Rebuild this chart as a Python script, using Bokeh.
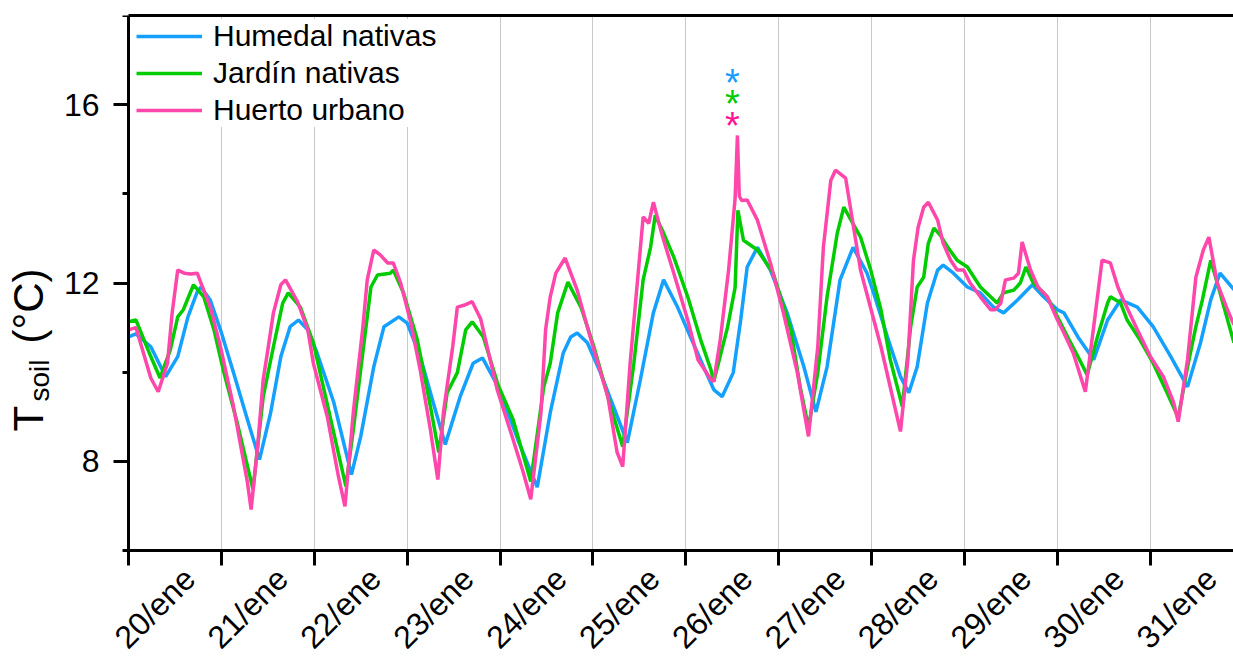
import math
from bokeh.plotting import figure
from bokeh.models import Range1d, FixedTicker, LinearAxis
from bokeh.core.properties import value
from bokeh.embed import file_html
from bokeh.resources import INLINE

FONT = "Liberation Sans"

# ---- data -------------------------------------------------------------
tick_days = [20, 21, 22, 23, 24, 25, 26, 27, 28, 29, 30, 31]
tick_labels = ["20/ene", "21/ene", "22/ene", "23/ene", "24/ene", "25/ene",
               "26/ene", "27/ene", "28/ene", "29/ene", "30/ene", "31/ene"]
y_major = [8, 12, 16]
y_minor = [6, 10, 14, 18]

series_names = ["Humedal nativas", "Jardín nativas", "Huerto urbano"]

# (day of January, soil temperature °C)
humedal = [
    (20.00, 10.79), (20.08, 10.86), (20.24, 10.57), (20.40, 9.90), (20.53, 10.35),
    (20.64, 11.24), (20.74, 11.80), (20.78, 11.91), (20.88, 11.62), (20.99, 10.95),
    (21.13, 9.99), (21.28, 8.94), (21.41, 8.04), (21.53, 9.09), (21.64, 10.35),
    (21.74, 11.02), (21.83, 11.17), (21.93, 10.95), (22.03, 10.43), (22.21, 9.32),
    (22.40, 7.70), (22.50, 8.56), (22.64, 10.12), (22.75, 11.02), (22.91, 11.24),
    (23.00, 11.10), (23.14, 10.35), (23.28, 9.32), (23.41, 8.38), (23.57, 9.45),
    (23.71, 10.20), (23.81, 10.32), (23.98, 9.67), (24.19, 8.49), (24.40, 7.42),
    (24.54, 9.09), (24.68, 10.43), (24.76, 10.79), (24.83, 10.88), (24.94, 10.66),
    (25.08, 9.99), (25.22, 9.23), (25.37, 8.42), (25.51, 9.83), (25.65, 11.33),
    (25.76, 12.07), (25.91, 11.46), (26.05, 10.79), (26.19, 10.12), (26.30, 9.61),
    (26.39, 9.45), (26.51, 9.99), (26.59, 11.17), (26.66, 12.36), (26.77, 12.80),
    (26.91, 12.29), (27.09, 11.33), (27.27, 10.12), (27.40, 9.11), (27.52, 10.12),
    (27.66, 12.07), (27.80, 12.80), (27.95, 12.22), (28.02, 11.78), (28.17, 10.79),
    (28.31, 9.90), (28.40, 9.54), (28.49, 10.12), (28.60, 11.55), (28.71, 12.29),
    (28.77, 12.40), (28.88, 12.22), (29.03, 11.91), (29.17, 11.78), (29.31, 11.46),
    (29.42, 11.33), (29.57, 11.62), (29.73, 11.96), (29.85, 11.69), (30.00, 11.40),
    (30.07, 11.33), (30.22, 10.79), (30.39, 10.28), (30.54, 11.17), (30.68, 11.62),
    (30.86, 11.46), (31.03, 11.02), (31.22, 10.35), (31.40, 9.67), (31.54, 10.66),
    (31.65, 11.62), (31.75, 12.22), (31.90, 11.85),
]

jardin = [
    (20.00, 11.13), (20.08, 11.17), (20.24, 10.35), (20.34, 9.87), (20.45, 10.50),
    (20.53, 11.24), (20.59, 11.40), (20.69, 11.91), (20.70, 11.96), (20.81, 11.69),
    (20.92, 10.95), (21.02, 10.05), (21.17, 8.87), (21.34, 7.37), (21.45, 9.45),
    (21.56, 10.57), (21.66, 11.55), (21.72, 11.78), (21.85, 11.46), (21.99, 10.66),
    (22.17, 9.00), (22.34, 7.44), (22.42, 8.71), (22.53, 10.57), (22.61, 11.91),
    (22.68, 12.18), (22.82, 12.22), (22.85, 12.29), (22.96, 11.78), (23.11, 10.72),
    (23.25, 9.23), (23.34, 8.20), (23.43, 9.54), (23.54, 9.99), (23.63, 10.95),
    (23.70, 11.13), (23.82, 10.79), (23.98, 9.70), (24.14, 8.94), (24.33, 7.55),
    (24.47, 9.67), (24.54, 10.20), (24.62, 11.33), (24.73, 12.02), (24.87, 11.46),
    (25.01, 10.57), (25.19, 9.23), (25.32, 8.33), (25.44, 10.20), (25.54, 12.07),
    (25.62, 12.80), (25.67, 13.52), (25.76, 13.12), (25.87, 12.58), (26.02, 11.69),
    (26.16, 10.72), (26.27, 10.05), (26.30, 9.79), (26.45, 11.02), (26.53, 11.90),
    (26.56, 13.63), (26.62, 12.96), (26.77, 12.74), (26.94, 12.22), (27.13, 10.95),
    (27.23, 9.67), (27.32, 8.76), (27.42, 9.99), (27.52, 11.69), (27.63, 13.12),
    (27.70, 13.70), (27.88, 13.03), (27.99, 12.29), (28.10, 11.40), (28.20, 10.28),
    (28.33, 9.23), (28.42, 11.02), (28.49, 11.91), (28.56, 12.13), (28.61, 12.89),
    (28.67, 13.23), (28.74, 13.07), (28.82, 12.80), (28.92, 12.51), (29.03, 12.36),
    (29.17, 11.91), (29.35, 11.55), (29.42, 11.78), (29.53, 11.84), (29.60, 12.00),
    (29.66, 12.36), (29.74, 12.00), (29.89, 11.69), (30.00, 11.24), (30.11, 10.79),
    (30.22, 10.35), (30.32, 9.94), (30.43, 10.79), (30.54, 11.55), (30.57, 11.69),
    (30.68, 11.55), (30.75, 11.17), (30.89, 10.72), (31.03, 10.20), (31.18, 9.54),
    (31.30, 8.98), (31.40, 10.12), (31.49, 11.02), (31.56, 11.62), (31.65, 12.51),
    (31.75, 11.78), (31.90, 10.66),
]

huerto = [
    (20.00, 10.95), (20.08, 11.00), (20.24, 9.87), (20.32, 9.56), (20.42, 10.20),
    (20.47, 11.33), (20.53, 12.29), (20.60, 12.22), (20.67, 12.20), (20.74, 12.22),
    (20.78, 12.00), (20.88, 11.46), (20.99, 10.57), (21.13, 9.23), (21.28, 7.53),
    (21.32, 6.92), (21.39, 8.33), (21.45, 9.83), (21.50, 10.50), (21.56, 11.33),
    (21.64, 11.96), (21.69, 12.07), (21.82, 11.58), (21.93, 10.95), (21.99, 10.20),
    (22.14, 9.00), (22.26, 7.66), (22.33, 6.99), (22.42, 9.10), (22.52, 10.95),
    (22.57, 12.07), (22.64, 12.74), (22.71, 12.63), (22.79, 12.45), (22.85, 12.45),
    (22.93, 12.00), (23.04, 11.10), (23.14, 10.05), (23.25, 8.71), (23.33, 7.59),
    (23.39, 9.10), (23.49, 10.57), (23.54, 11.46), (23.61, 11.50), (23.70, 11.58),
    (23.79, 11.20), (23.97, 9.60), (24.14, 8.49), (24.25, 7.75), (24.33, 7.15),
    (24.44, 9.09), (24.49, 10.95), (24.54, 11.69), (24.60, 12.22), (24.70, 12.56),
    (24.83, 11.84), (24.97, 10.79), (25.16, 9.45), (25.26, 8.20), (25.32, 7.88),
    (25.40, 10.20), (25.48, 12.07), (25.54, 13.48), (25.60, 13.34), (25.65, 13.81),
    (25.75, 13.03), (25.87, 12.22), (26.02, 11.17), (26.13, 10.28), (26.18, 10.12),
    (26.27, 9.83), (26.30, 9.79), (26.37, 10.72), (26.46, 12.29), (26.53, 13.90),
    (26.555, 15.31), (26.575, 13.95), (26.60, 13.85), (26.66, 13.86), (26.77, 13.41),
    (26.91, 12.45), (27.05, 11.33), (27.20, 9.99), (27.32, 8.56), (27.42, 10.57),
    (27.48, 12.80), (27.56, 14.30), (27.61, 14.53), (27.72, 14.35), (27.88, 12.29),
    (28.10, 10.57), (28.31, 8.67), (28.39, 10.28), (28.45, 12.51), (28.50, 13.25),
    (28.56, 13.70), (28.61, 13.81), (28.71, 13.41), (28.77, 12.89), (28.85, 12.51),
    (28.92, 12.29), (28.99, 12.29), (29.06, 12.00), (29.17, 11.69), (29.28, 11.40),
    (29.33, 11.40), (29.39, 11.55), (29.44, 12.07), (29.53, 12.11), (29.58, 12.22),
    (29.62, 12.92), (29.71, 12.29), (29.79, 11.91), (29.89, 11.69), (30.00, 11.17),
    (30.07, 10.88), (30.17, 10.43), (30.30, 9.56), (30.39, 11.02), (30.48, 12.51),
    (30.57, 12.45), (30.65, 11.91), (30.71, 11.62), (30.86, 10.95), (31.00, 10.35),
    (31.14, 9.90), (31.25, 9.32), (31.30, 8.89), (31.40, 10.28), (31.49, 12.13),
    (31.57, 12.74), (31.63, 13.03), (31.72, 12.00), (31.83, 11.40), (31.90, 11.06),
]

# asterisks marking the event of 26/ene
star_days = [26.50, 26.50, 26.50]
star_temps = [16.64, 16.17, 15.68]
star_text = ["*", "*", "*"]

# y-axis title pieces
ytitle_parts = ["T", "soil", "(°C)"]

# ---- style / layout ----------------------------------------------------
BLUE = "#13A0FF"
GREEN = "#00CC00"
PINK = "#FF46AA"
STAR_COLORS = ["#1A9CFF", "#00CC00", "#FF1493"]
GRID = "#c8c8c8"
LW = 3.5

W, H = 1233, 660
X0, X1 = 20.0, 31.895          # visible data span of the time axis
Y0, Y1 = 6.0, 18.0             # visible data span of the temperature axis
PLOT_LEFT, PLOT_TOP, PLOT_BOTTOM = 128, 15, 550   # pixel edges of the data area
px_x = (W - PLOT_LEFT) / (X1 - X0)
px_y = (PLOT_BOTTOM - PLOT_TOP) / (Y1 - Y0)

# The frame covers the whole canvas (except the top strip) so that axis
# labels and the y title, placed left of / below the data area, are not clipped.
p = figure(width=W, height=H,
           x_range=Range1d(X0 - PLOT_LEFT / px_x, X1),
           y_range=Range1d(Y0 - (H - PLOT_BOTTOM) / px_y, Y1),
           output_backend="svg", toolbar_location=None,
           min_border_left=0, min_border_right=0,
           min_border_top=PLOT_TOP, min_border_bottom=0)
p.outline_line_color = None
p.background_fill_color = "white"
p.border_fill_color = "white"

# ---- x axis at y = 6: ticks each day (minor), labels offset (major) ----
LABEL_SHIFT = 61.0 / px_x
label_pos = [round(d + LABEL_SHIFT, 4) for d in tick_days]
xa = p.xaxis[0]
xa.fixed_location = Y0
xa.bounds = (X0, X1)
xa.ticker = FixedTicker(ticks=label_pos, minor_ticks=tick_days)
xa.major_label_overrides = {pos: lab for pos, lab in zip(label_pos, tick_labels)}
xa.major_label_orientation = math.pi / 4
xa.major_label_standoff = 8
xa.major_label_text_font = FONT
xa.major_label_text_font_size = "32px"
xa.major_label_text_color = "black"
xa.axis_line_width = 3
xa.major_tick_line_color = None
xa.major_tick_out = 0
xa.major_tick_in = 0
xa.minor_tick_line_color = "black"
xa.minor_tick_line_width = 3
xa.minor_tick_out = 15
xa.minor_tick_in = 0

# ---- y axis at x = 20 ----------------------------------------------------
ya = p.yaxis[0]
ya.fixed_location = X0
ya.bounds = (Y0, Y1)
ya.ticker = FixedTicker(ticks=y_major, minor_ticks=y_minor)
ya.axis_line_width = 3
ya.major_tick_line_width = 3
ya.minor_tick_line_width = 3
ya.major_tick_out = 15
ya.major_tick_in = 0
ya.minor_tick_out = 6
ya.minor_tick_in = 0
ya.major_label_text_font = FONT
ya.major_label_text_font_size = "32px"
ya.major_label_text_color = "black"
ya.major_label_standoff = 14

# top frame line
top = LinearAxis(ticker=FixedTicker(ticks=[], minor_ticks=[]), bounds=(X0, X1),
                 axis_line_width=3, major_tick_line_color=None,
                 minor_tick_line_color=None, major_label_text_color=None)
p.add_layout(top, "above")

# vertical grid lines, only over the data area
p.ygrid.visible = False
xg = p.xgrid[0]
if "cross_bounds" in xg.properties():
    xg.ticker = FixedTicker(ticks=tick_days)
    xg.bounds = (X0, X1)
    xg.cross_bounds = (Y0, Y1)
    xg.grid_line_color = GRID
    xg.grid_line_width = 1
else:
    xg.visible = False
    p.segment(x0=tick_days, y0=[Y0] * len(tick_days), x1=tick_days,
              y1=[Y1] * len(tick_days), line_color=GRID, line_width=1)

# ---- lines ------------------------------------------------------------
for data, col, name in [(humedal, BLUE, series_names[0]),
                        (jardin, GREEN, series_names[1]),
                        (huerto, PINK, series_names[2])]:
    t, v = zip(*data)
    p.line(list(t), list(v), line_color=col, line_width=LW, legend_label=name)

# asterisks
p.text(x=star_days, y=star_temps, text=star_text, text_color=STAR_COLORS,
       text_font=value(FONT), text_font_size=value("38px"),
       text_align="center", text_baseline="alphabetic", y_offset=7)

# y-axis title "T_soil (°C)" (rotated), placed left of the y axis
title_x = [X0 - 99.8 / px_x, X0 - 89.2 / px_x, X0 - 99.8 / px_x]
title_y = [Y0 + (PLOT_BOTTOM - 431) / px_y, Y0 + (PLOT_BOTTOM - 401) / px_y,
           Y0 + (PLOT_BOTTOM - 343) / px_y]
p.text(x=title_x, y=title_y, text=ytitle_parts, angle=math.pi / 2,
       text_font=value(FONT), text_font_size=["42px", "28px", "42px"],
       text_color="black", text_align="left", text_baseline="alphabetic")

# legend
lg = p.legend[0]
lg.location = (PLOT_LEFT + 8, 423 + (H - PLOT_BOTTOM))
lg.margin = 0
lg.padding = 7
lg.spacing = 3
lg.glyph_width = 66
lg.glyph_height = 34
lg.label_standoff = 11
lg.label_text_font = FONT
lg.label_text_font_size = "30px"
lg.label_text_color = "black"
lg.border_line_color = None
lg.background_fill_color = "white"
lg.background_fill_alpha = 1.0

open("out.html", "w").write(file_html(p, INLINE))
